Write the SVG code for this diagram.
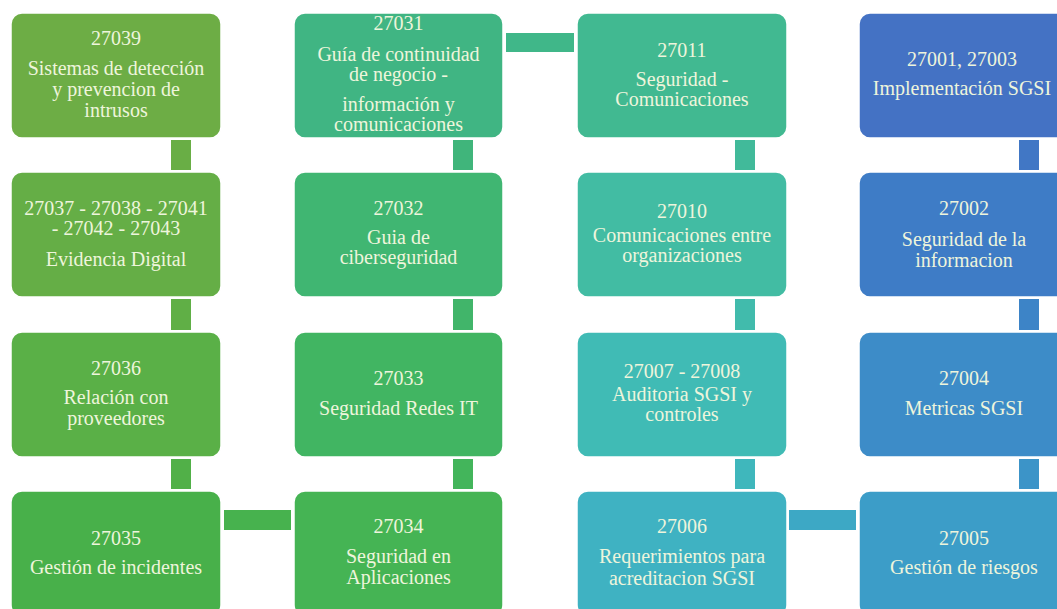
<svg xmlns="http://www.w3.org/2000/svg" width="1057" height="609" viewBox="0 0 1057 609">
<style>
.box{stroke:#ffffff;stroke-width:1.5}
.t{font-family:'Liberation Serif','Tinos','Times New Roman','DejaVu Serif','Noto Serif',serif;font-size:20px;fill:#EEF5DC;text-anchor:middle}
</style>
<rect width="1057" height="609" fill="#ffffff"/>
<g id="connectors">
<rect x="171" y="140" width="20" height="30" fill="#69AE45"/>
<rect x="171" y="299" width="20" height="31" fill="#60AF46"/>
<rect x="171" y="459" width="20" height="30" fill="#51B048"/>
<rect x="224" y="510" width="67" height="20" fill="#47B24E"/>
<rect x="453" y="459" width="20" height="30" fill="#43B55B"/>
<rect x="453" y="299" width="20" height="31" fill="#41B56A"/>
<rect x="453" y="140" width="20" height="30" fill="#40B57B"/>
<rect x="506" y="33" width="68" height="19" fill="#40B789"/>
<rect x="735" y="140" width="20" height="30" fill="#41BA9A"/>
<rect x="735" y="299" width="20" height="31" fill="#41BBAC"/>
<rect x="735" y="459" width="20" height="30" fill="#3FB7BC"/>
<rect x="789" y="510" width="67" height="20" fill="#3DA8C5"/>
<rect x="1019" y="459" width="20" height="30" fill="#3C94C8"/>
<rect x="1019" y="299" width="20" height="31" fill="#3D84C7"/>
<rect x="1019" y="140" width="20" height="30" fill="#4177C5"/>
</g>
<g id="n27039">
<rect class="box" x="11" y="13" width="210" height="125" rx="11" fill="#6DAD45"/>
<text class="t" x="116" y="45">27039</text>
<text class="t" x="116" y="75">Sistemas de detección</text>
<text class="t" x="116" y="96">y prevencion de</text>
<text class="t" x="116" y="117">intrusos</text>
</g>
<g id="n27037">
<rect class="box" x="11" y="172" width="210" height="125" rx="11" fill="#65AE46"/>
<text class="t" x="116" y="215">27037 - 27038 - 27041</text>
<text class="t" x="116" y="235">- 27042 - 27043</text>
<text class="t" x="116" y="266">Evidencia Digital</text>
</g>
<g id="n27036">
<rect class="box" x="11" y="332" width="210" height="125" rx="11" fill="#5AB047"/>
<text class="t" x="116" y="375">27036</text>
<text class="t" x="116" y="404">Relación con</text>
<text class="t" x="116" y="425">proveedores</text>
</g>
<g id="n27035">
<rect class="box" x="11" y="491" width="210" height="125" rx="11" fill="#48B04A"/>
<text class="t" x="116" y="545">27035</text>
<text class="t" x="116" y="574">Gestión de incidentes</text>
</g>
<g id="n27034">
<rect class="box" x="294" y="491" width="209" height="125" rx="11" fill="#45B454"/>
<text class="t" x="398.5" y="533">27034</text>
<text class="t" x="398.5" y="563">Seguridad en</text>
<text class="t" x="398.5" y="584">Aplicaciones</text>
</g>
<g id="n27033">
<rect class="box" x="294" y="332" width="209" height="125" rx="11" fill="#41B562"/>
<text class="t" x="398.5" y="385">27033</text>
<text class="t" x="398.5" y="415">Seguridad Redes IT</text>
</g>
<g id="n27032">
<rect class="box" x="294" y="172" width="209" height="125" rx="11" fill="#40B672"/>
<text class="t" x="398.5" y="215">27032</text>
<text class="t" x="398.5" y="244">Guia de</text>
<text class="t" x="398.5" y="264">ciberseguridad</text>
</g>
<g id="n27031">
<rect class="box" x="294" y="13" width="209" height="125" rx="11" fill="#40B583"/>
<text class="t" x="398.5" y="30">27031</text>
<text class="t" x="398.5" y="61">Guía de continuidad</text>
<text class="t" x="398.5" y="81">de negocio -</text>
<text class="t" x="398.5" y="111">información y</text>
<text class="t" x="398.5" y="131">comunicaciones</text>
</g>
<g id="n27011">
<rect class="box" x="577" y="13" width="210" height="125" rx="11" fill="#41B991"/>
<text class="t" x="682" y="57">27011</text>
<text class="t" x="682" y="86">Seguridad -</text>
<text class="t" x="682" y="106">Comunicaciones</text>
</g>
<g id="n27010">
<rect class="box" x="577" y="172" width="210" height="125" rx="11" fill="#42BCA3"/>
<text class="t" x="682" y="218">27010</text>
<text class="t" x="682" y="242">Comunicaciones entre</text>
<text class="t" x="682" y="262">organizaciones</text>
</g>
<g id="n27007">
<rect class="box" x="577" y="332" width="210" height="125" rx="11" fill="#40BBB5"/>
<text class="t" x="682" y="378">27007 - 27008</text>
<text class="t" x="682" y="401">Auditoria SGSI y</text>
<text class="t" x="682" y="421">controles</text>
</g>
<g id="n27006">
<rect class="box" x="577" y="491" width="210" height="125" rx="11" fill="#3FB2C2"/>
<text class="t" x="682" y="533">27006</text>
<text class="t" x="682" y="563">Requerimientos para</text>
<text class="t" x="682" y="585">acreditacion SGSI</text>
</g>
<g id="n27005">
<rect class="box" x="859" y="491" width="210" height="125" rx="11" fill="#3C9DC8"/>
<text class="t" x="964" y="545">27005</text>
<text class="t" x="964" y="574">Gestión de riesgos</text>
</g>
<g id="n27004">
<rect class="box" x="859" y="332" width="210" height="125" rx="11" fill="#3D8CC8"/>
<text class="t" x="964" y="385">27004</text>
<text class="t" x="964" y="415">Metricas SGSI</text>
</g>
<g id="n27002">
<rect class="box" x="859" y="172" width="210" height="125" rx="11" fill="#3E7CC6"/>
<text class="t" x="964" y="215">27002</text>
<text class="t" x="964" y="246">Seguridad de la</text>
<text class="t" x="964" y="267">informacion</text>
</g>
<g id="n27001">
<rect class="box" x="859" y="13" width="210" height="125" rx="11" fill="#4472C4"/>
<text class="t" x="962" y="66">27001, 27003</text>
<text class="t" x="962" y="95">Implementación SGSI</text>
</g>
</svg>
